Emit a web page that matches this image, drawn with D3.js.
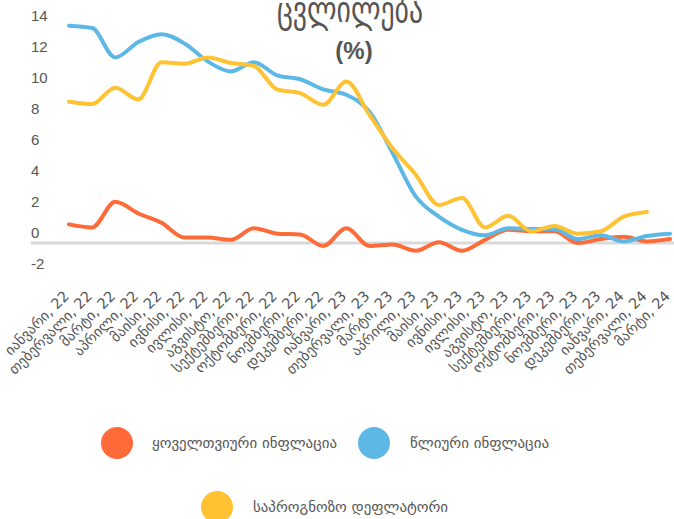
<!DOCTYPE html>
<html>
<head>
<meta charset="utf-8">
<script src="https://cdn.jsdelivr.net/npm/d3@7"></script>
<style>
  body { margin: 0; background: #fff; }
  .chart text { fill: #555; }
</style>
</head>
<body>
<div class="chart"></div>
<script>
// period labels (Jan 2022 .. Mar 2024)
const periods = [
  'იანვარი, 22','თებერვალი, 22','მარტი, 22','აპრილი, 22','მაისი, 22','ივნისი, 22',
  'ივლისი, 22','აგვისტო, 22','სექტემბერი, 22','ოქტომბერი, 22','ნოემბერი, 22','დეკემბერი, 22',
  'იანვარი, 23','თებერვალი, 23','მარტი, 23','აპრილი, 23','მაისი, 23','ივნისი, 23',
  'ივლისი, 23','აგვისტო, 23','სექტემბერი, 23','ოქტომბერი, 23','ნოემბერი, 23','დეკემბერი, 23',
  'იანვარი, 24','თებერვალი, 24','მარტი, 24'
];

const monthly = [1.2, 1.0, 2.65, 1.9, 1.3, 0.35, 0.35, 0.2, 0.95, 0.6, 0.55, -0.2,
  0.95, -0.2, -0.1, -0.5, 0.05, -0.5, 0.2, 0.85, 0.75, 0.75, 0.0, 0.25, 0.4, 0.1, 0.25];
const annual = [14.0, 13.85, 11.95, 12.95, 13.45, 12.85, 11.7, 11.05, 11.65, 10.8, 10.55, 9.9,
  9.55, 8.45, 5.8, 3.0, 1.7, 0.85, 0.5, 0.95, 0.9, 0.9, 0.25, 0.5, 0.1, 0.45, 0.6];
const deflator = [9.1, 8.95, 10.0, 9.25, 11.65, 11.55, 11.95, 11.6, 11.4, 9.9, 9.65, 8.9,
  10.4, 8.25, 6.1, 4.4, 2.45, 2.9, 1.0, 1.75, 0.75, 1.1, 0.6, 0.75, 1.7, 2.0];

const yTicks = [-2, 0, 2, 4, 6, 8, 10, 12, 14];
const seriesNames = ['ყოველთვიური ინფლაცია', 'წლიური ინფლაცია', 'საპროგნოზო დეფლატორი'];
const colors = ['#ff6a39', '#5db8e6', '#fec233'];

const width = 674, height = 519;
const geo = '"DejaVu Sans Condensed", "DejaVu Sans", sans-serif';
const num = '"Liberation Sans Narrow", "Liberation Sans", sans-serif';

const svg = d3.select('.chart').append('svg')
    .attr('width', width)
    .attr('height', height);

const x = d3.scalePoint()
    .domain(periods)
    .range([69, 670]);

const y = d3.scaleLinear()
    .domain([-2, 14])
    .range([274, 25.7]);

// title (top part is cut off in the original)
svg.append('text')
    .attr('x', 350)
    .attr('y', 22)
    .attr('text-anchor', 'middle')
    .attr('font-family', geo)
    .attr('font-size', 36)
    .attr('textLength', 146)
    .attr('lengthAdjust', 'spacingAndGlyphs')
    .text('ცვლილება');

svg.append('text')
    .attr('x', 354)
    .attr('y', 59)
    .attr('text-anchor', 'middle')
    .attr('font-family', num)
    .attr('font-weight', 'bold')
    .attr('font-size', 24)
    .text('(%)');

// y labels sit above their value
svg.selectAll('.ytick')
    .data(yTicks)
    .enter()
    .append('text')
    .attr('class', 'ytick')
    .attr('x', 31)
    .attr('y', d => y(d) - 5)
    .attr('font-family', num)
    .attr('font-size', 15)
    .text(d => d);

// zero line
svg.append('line')
    .attr('x1', 31)
    .attr('x2', width)
    .attr('y1', y(0))
    .attr('y2', y(0))
    .attr('stroke', '#d9d9d9')
    .attr('stroke-width', 3);

// x labels
svg.selectAll('.xtick')
    .data(periods)
    .enter()
    .append('text')
    .attr('class', 'xtick')
    .attr('transform', d => `translate(${x(d) + 1},${297}) rotate(-45)`)
    .attr('text-anchor', 'end')
    .attr('font-family', '"DejaVu Sans", sans-serif')
    .attr('font-size', 14.5)
    .text(d => d);

const line = d3.line()
    .x((d, i) => x(periods[i]))
    .y(d => y(d))
    .curve(d3.curveMonotoneX);

[monthly, annual, deflator].forEach((s, i) => {
    svg.append('path')
        .datum(s)
        .attr('fill', 'none')
        .attr('stroke', colors[i])
        .attr('stroke-width', 4)
        .attr('stroke-linejoin', 'round')
        .attr('stroke-linecap', 'round')
        .attr('d', line);
});

// legend
const legendPos = [
    {cx: 117, cy: 443, tx: 152, len: 185},
    {cx: 374, cy: 443, tx: 410, len: 139},
    {cx: 217, cy: 507, tx: 253, len: 195}
];

const legend = svg.selectAll('.legend')
    .data(seriesNames)
    .enter()
    .append('g')
    .attr('class', 'legend');

legend.append('circle')
    .attr('cx', (d, i) => legendPos[i].cx)
    .attr('cy', (d, i) => legendPos[i].cy)
    .attr('r', 16)
    .attr('fill', (d, i) => colors[i]);

legend.append('text')
    .attr('x', (d, i) => legendPos[i].tx)
    .attr('y', (d, i) => legendPos[i].cy + 5)
    .attr('font-family', geo)
    .attr('font-size', 15)
    .attr('textLength', (d, i) => legendPos[i].len)
    .attr('lengthAdjust', 'spacingAndGlyphs')
    .text(d => d);
</script>
</body>
</html>
